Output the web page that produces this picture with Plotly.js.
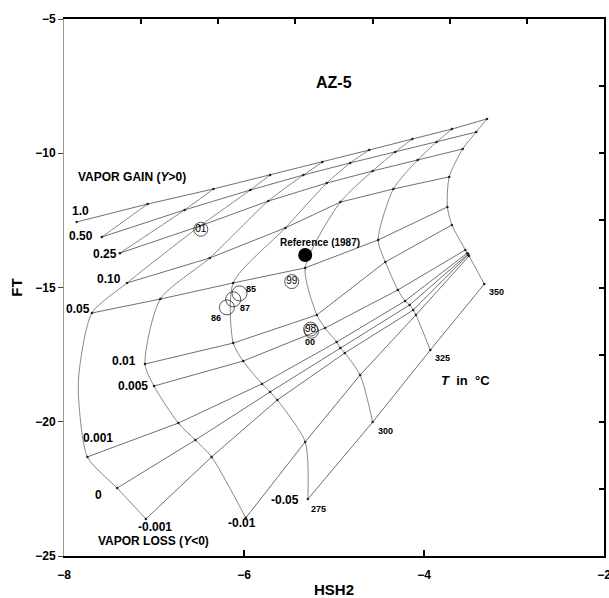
<!DOCTYPE html>
<html><head><meta charset="utf-8">
<script src="https://cdn.plot.ly/plotly-3.0.1.min.js"></script>
<style>body{margin:0;padding:0;background:#fff}#chart{width:609px;height:598px}</style>
</head><body><div id="chart"></div>
<script>
// temperatures (°C) of grid nodes
const temps = [150,175,200,225,250,275,300,325,350];
// vapor fraction labels, one per grid line
const yLabels = ['1.0','0.50','0.25','0.10','0.05','0.01','0.005','0.001','0','-0.001','-0.01','-0.05'];
// temperature at which each vapor-fraction line begins
const lineStartT = [150,175,200,225,225,250,250,225,225,225,250,275];
// HSH2 / FT node values per vapor fraction, aligned with temps (null = none)
const hsh2_Y1_0   = [-7.86,-7.07,-6.34,-5.71,-5.13,-4.61,-4.13,-3.69,-3.30];
const ft_Y1_0     = [-12.56,-11.89,-11.33,-10.81,-10.33,-9.88,-9.47,-9.10,-8.72];
const hsh2_Y0_50  = [null,-7.58,-6.66,-5.93,-5.34,-4.82,-4.32,-3.86,-3.42];
const ft_Y0_50    = [null,-13.12,-12.11,-11.37,-10.81,-10.36,-9.95,-9.58,-9.21];
const hsh2_Y0_25  = [null,null,-7.38,-6.49,-5.73,-5.08,-4.57,-4.07,-3.57];
const ft_Y0_25    = [null,null,-13.72,-12.71,-11.78,-11.11,-10.66,-10.25,-9.84];
const hsh2_Y0_10  = [null,null,null,-7.30,-6.38,-5.54,-4.93,-4.34,-3.72];
const ft_Y0_10    = [null,null,null,-14.83,-13.90,-12.78,-11.82,-11.33,-10.88];
const hsh2_Y0_05  = [null,null,null,-7.69,-6.93,-6.12,-5.32,-4.51,-3.74];
const ft_Y0_05    = [null,null,null,-15.95,-15.43,-14.83,-14.27,-13.23,-12.00];
const hsh2_Y0_01  = [null,null,null,-7.83,-7.10,-6.12,-5.19,-4.43,-3.69];
const ft_Y0_01    = [null,null,null,-18.07,-17.85,-17.07,-16.02,-14.05,-12.67];
const hsh2_Y0_005 = [null,null,null,-7.84,-7.00,-6.01,-5.10,-4.29,-3.54];
const ft_Y0_005   = [null,null,null,-19.00,-18.67,-17.74,-16.51,-15.09,-13.60];
const hsh2_Y0_001 = [null,null,null,-7.74,-6.73,-5.80,-4.97,-4.21,-3.52];
const ft_Y0_001   = [null,null,null,-21.31,-20.05,-18.59,-17.03,-15.50,-13.72];
const hsh2_Y0     = [null,null,null,-7.41,-6.54,-5.71,-4.93,-4.16,-3.51];
const ft_Y0       = [null,null,null,-22.47,-20.68,-18.89,-17.25,-15.65,-13.75];
const hsh2_Ym0_001= [null,null,null,-7.09,-6.36,-5.63,-4.88,-4.12,-3.51];
const ft_Ym0_001  = [null,null,null,-23.62,-21.31,-19.19,-17.44,-15.84,-13.79];
const hsh2_Ym0_01 = [null,null,null,null,-5.98,-5.32,-4.71,-4.09,-3.50];
const ft_Ym0_01   = [null,null,null,null,-23.58,-20.75,-18.26,-16.02,-13.83];
const hsh2_Ym0_05 = [null,null,null,null,null,-5.29,-4.57,-3.93,-3.33];
const ft_Ym0_05   = [null,null,null,null,null,-22.88,-20.01,-17.33,-14.87];

// well samples (year labels) and reference
const sampleYears = ['85','87','86','99','01','98','00'];
const sampleHSH2  = [-6.05,-6.12,-6.19,-5.47,-6.48,-5.26,-5.25];
const sampleFT    = [-15.22,-15.44,-15.74,-14.78,-12.83,-16.55,-16.63];
const refHSH2 = [-5.32];
const refFT   = [-13.79];

const HS = [hsh2_Y1_0,hsh2_Y0_50,hsh2_Y0_25,hsh2_Y0_10,hsh2_Y0_05,hsh2_Y0_01,hsh2_Y0_005,hsh2_Y0_001,hsh2_Y0,hsh2_Ym0_001,hsh2_Ym0_01,hsh2_Ym0_05];
const FTs = [ft_Y1_0,ft_Y0_50,ft_Y0_25,ft_Y0_10,ft_Y0_05,ft_Y0_01,ft_Y0_005,ft_Y0_001,ft_Y0,ft_Ym0_001,ft_Ym0_01,ft_Ym0_05];

const FONT = 'Liberation Sans, Arial, sans-serif';
const traces = [];
// constant-T curves
temps.forEach((t,j)=>{
  const xs=[],ys=[];
  HS.forEach((arr,i)=>{ if(arr[j]!==null){xs.push(arr[j]);ys.push(FTs[i][j]);} });
  if(xs.length>1) traces.push({x:xs,y:ys,mode:'lines',line:{color:'#6a6a6a',width:0.8,shape:'spline',smoothing:0.7},hoverinfo:'skip'});
});
// constant-Y lines
HS.forEach((arr,i)=>{
  const xs=[],ys=[];
  temps.forEach((t,j)=>{ if(t>=lineStartT[i] && arr[j]!==null){xs.push(arr[j]);ys.push(FTs[i][j]);} });
  traces.push({x:xs,y:ys,mode:'lines+markers',line:{color:'#4a4a4a',width:0.8},marker:{size:2.5,color:'#222'},hoverinfo:'skip'});
});
// samples
const ringed = ['99','01','98','00'];
const inner = ['99','01','98'];
traces.push({x:sampleHSH2,y:sampleFT,mode:'markers',marker:{symbol:'circle-open',size:sampleYears.map(s=>ringed.includes(s)?14:15),color:'#111',line:{width:1}},hoverinfo:'skip'});
traces.push({x:sampleHSH2.filter((v,i)=>inner.includes(sampleYears[i])),y:sampleFT.filter((v,i)=>inner.includes(sampleYears[i])),
  text:sampleYears.filter(s=>inner.includes(s)),mode:'text',textfont:{family:FONT,size:10,color:'#000'},hoverinfo:'skip'});
traces.push({x:refHSH2,y:refFT,mode:'markers',marker:{size:14,color:'#000'},hoverinfo:'skip'});
// dummy for top/right tick axes
traces.push({x:[0],y:[0],xaxis:'x2',yaxis:'y2',mode:'markers',marker:{opacity:0},hoverinfo:'skip'});

function ann(text,x,y,size,opts){return Object.assign({text:text,x:x,y:y,xref:'x',yref:'y',showarrow:false,font:{family:FONT,size:size,color:'#000',weight:'bold'}},opts||{});}
const annotations = [
  ann('AZ-5',-5.0,-7.38,16),
  ann('VAPOR GAIN (<i>Y</i>&gt;0)',-7.87,-10.90,12,{xanchor:'left'}),
  ann('VAPOR LOSS (<i>Y</i>&lt;0)',-7.64,-24.44,12,{xanchor:'left'}),
  ann('1.0',-7.82,-12.15,12),
  ann('0.50',-7.81,-13.08,12),
  ann('0.25',-7.54,-13.75,12),
  ann('0.10',-7.50,-14.68,12),
  ann('0.05',-7.84,-15.80,12),
  ann('0.01',-7.33,-17.74,12),
  ann('0.005',-7.23,-18.67,12),
  ann('0.001',-7.62,-20.60,12),
  ann('0',-7.62,-22.73,12),
  ann('-0.001',-6.99,-23.92,12),
  ann('-0.01',-6.02,-23.77,12),
  ann('-0.05',-5.54,-22.91,12),
  ann('275',-5.17,-23.25,9),
  ann('300',-4.43,-20.34,9),
  ann('325',-3.79,-17.63,9),
  ann('350',-3.19,-15.17,9),
  ann('<i>T</i>  in  °C',-3.54,-18.48,13),
  ann('Reference (1987)',-5.16,-13.31,10),
  ann('85',-5.92,-15.07,9),
  ann('87',-5.99,-15.78,9),
  ann('86',-6.31,-16.15,9),
  ann('00',-5.27,-17.02,9)
];

const layout = {
  width:609,height:598,margin:{l:64,r:5,t:19,b:42},
  paper_bgcolor:'#fff',plot_bgcolor:'#fff',showlegend:false,
  font:{family:FONT,color:'#000'},
  xaxis:{range:[-8,-2],tickvals:[-8,-6,-4,-2],ticks:'inside',ticklen:6,tickwidth:2,tickcolor:'#000',
    showline:true,linecolor:'#000',linewidth:2,showgrid:false,zeroline:false,ticklabeloverflow:'allow',ticklabelstandoff:7,
    tickfont:{family:FONT,size:12,weight:'bold'},
    title:{text:'HSH2',font:{family:FONT,size:15,weight:'bold'},standoff:5}},
  yaxis:{range:[-25,-5],tickvals:[-25,-20,-15,-10,-5],ticks:'outside',ticklen:5,tickwidth:1,tickcolor:'#444',
    showline:true,linecolor:'#9a9a9a',linewidth:1,showgrid:false,zeroline:false,ticklabeloverflow:'allow',
    tickfont:{family:FONT,size:12,weight:'bold'},
    title:{text:'FT',font:{family:FONT,size:15,weight:'bold'},standoff:8}},
  xaxis2:{overlaying:'x',side:'top',range:[0,7],tick0:0,dtick:1,ticks:'inside',ticklen:5,tickwidth:2,tickcolor:'#000',
    showticklabels:false,showline:true,linecolor:'#000',linewidth:2,showgrid:false,zeroline:false},
  yaxis2:{overlaying:'y',side:'right',range:[0,8],tick0:0,dtick:1,ticks:'inside',ticklen:5,tickwidth:2,tickcolor:'#000',
    showticklabels:false,showline:true,linecolor:'#000',linewidth:2,showgrid:false,zeroline:false},
  annotations:annotations
};
Plotly.newPlot('chart',traces,layout,{displayModeBar:false,staticPlot:true});
</script></body></html>
